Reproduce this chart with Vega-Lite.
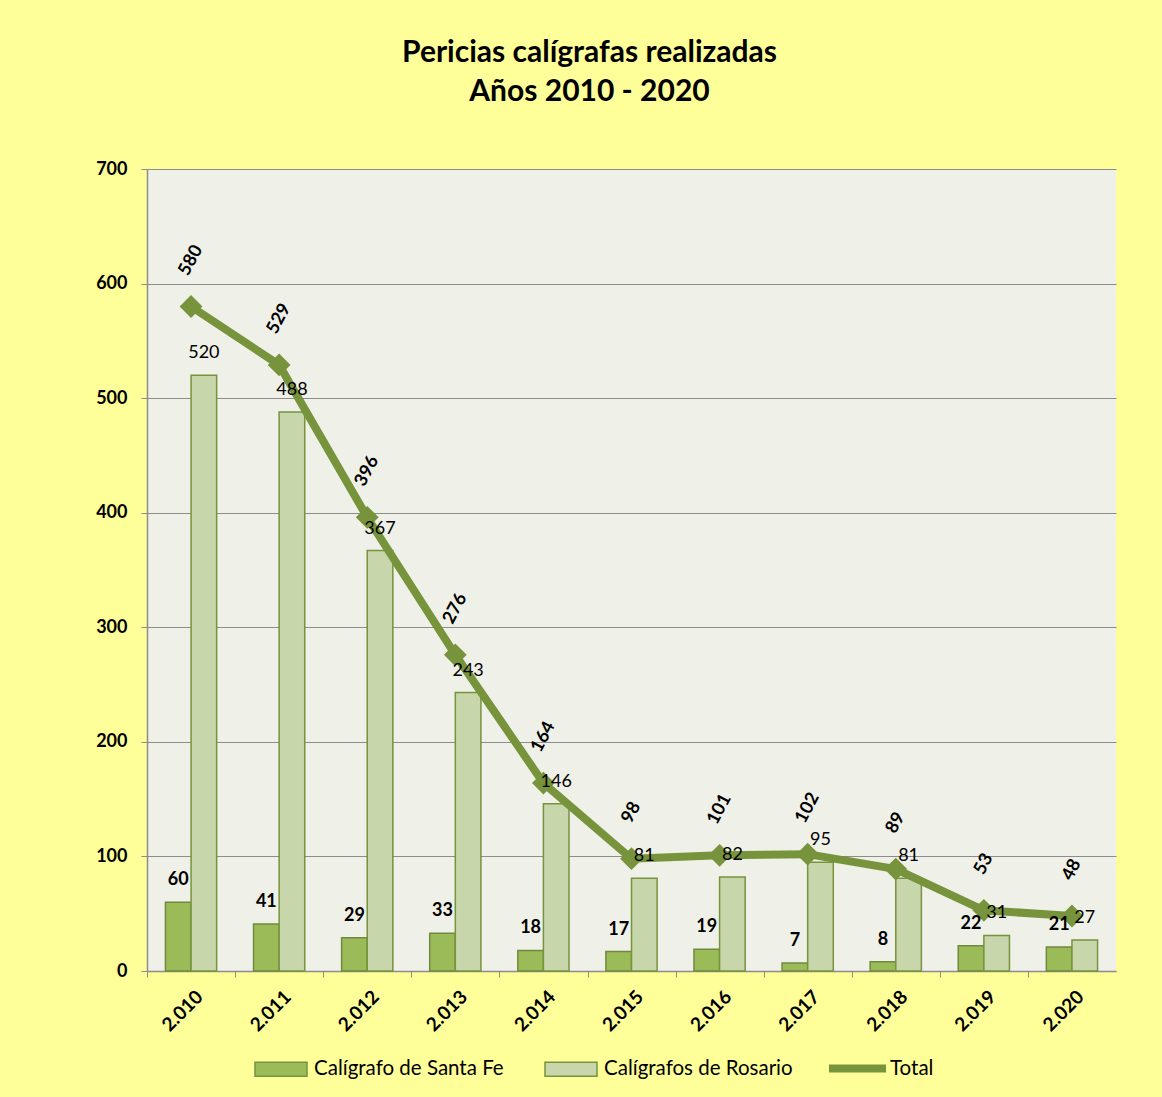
{
  "$schema": "https://vega.github.io/schema/vega-lite/v6.json",
  "autosize": "none",
  "width": 969,
  "height": 802,
  "padding": {"left": 147, "top": 169, "right": 46, "bottom": 126},
  "background": "#FFFF99",
  "config": {
    "font": "Lato",
    "view": {"fill": "#EFF1E8", "stroke": null},
    "axis": {"domainColor": "#8C8C8C", "tickColor": "#8C8C8C", "gridColor": "#8C8C8C", "labelColor": "black", "labelFont": "Lato", "labelFontWeight": "bold", "labelFontSize": 18, "title": null}
  },
  "title": {
    "text": ["Pericias calígrafas realizadas", "Años 2010 - 2020"],
    "font": "Lato",
    "fontSize": 30,
    "fontWeight": "bold",
    "color": "black",
    "lineHeight": 39,
    "anchor": "middle",
    "frame": "group",
    "dx": -42,
    "offset": 53
  },
  "datasets": {
    "main": [
      {"year": "2.010", "sf": 60, "ros": 520, "total": 580},
      {"year": "2.011", "sf": 41, "ros": 488, "total": 529},
      {"year": "2.012", "sf": 29, "ros": 367, "total": 396},
      {"year": "2.013", "sf": 33, "ros": 243, "total": 276},
      {"year": "2.014", "sf": 18, "ros": 146, "total": 164},
      {"year": "2.015", "sf": 17, "ros": 81, "total": 98},
      {"year": "2.016", "sf": 19, "ros": 82, "total": 101},
      {"year": "2.017", "sf": 7, "ros": 95, "total": 102},
      {"year": "2.018", "sf": 8, "ros": 81, "total": 89},
      {"year": "2.019", "sf": 22, "ros": 31, "total": 53},
      {"year": "2.020", "sf": 21, "ros": 27, "total": 48}
    ]
  },
  "data": {"name": "main"},
  "encoding": {
    "x": {
      "field": "year", "type": "nominal", "sort": null,
      "scale": {"paddingInner": 0, "paddingOuter": 0},
      "axis": {"labelAngle": -45, "labelFontSize": 19, "tickOffset": -44, "labelOffset": 46, "tickSize": 6, "labelPadding": 10, "grid": false, "domainWidth": 1.5}
    }
  },
  "layer": [
    {
      "transform": [{"fold": ["sf", "ros"], "as": ["key", "value"]},
        {"calculate": "datum.key == 'sf' ? 'Calígrafo de Santa Fe' : 'Calígrafos de Rosario'", "as": "series"}],
      "mark": {"type": "bar", "strokeWidth": 1.5},
      "encoding": {
        "xOffset": {"field": "series", "type": "nominal", "sort": ["Calígrafo de Santa Fe", "Calígrafos de Rosario"], "scale": {"paddingInner": 0, "paddingOuter": 0.72}},
        "y": {"field": "value", "type": "quantitative", "scale": {"domain": [0, 700], "nice": false},
          "axis": {"values": [0, 100, 200, 300, 400, 500, 600, 700], "grid": true, "tickSize": 6, "labelPadding": 14, "domainWidth": 1.5}},
        "fill": {"field": "series", "type": "nominal",
          "scale": {"domain": ["Calígrafo de Santa Fe", "Calígrafos de Rosario"], "range": ["#9BBB59", "#C7D6AB"]},
          "legend": {"orient": "none", "legendX": 107, "legendY": 873, "direction": "horizontal", "title": null,
            "symbolType": "M-1,-0.27H1V0.27H-1Z", "symbolSize": 2704, "symbolStrokeColor": "#77933C", "symbolStrokeWidth": 1.5,
            "labelFont": "Lato", "labelFontSize": 20.5, "labelColor": "black", "labelLimit": 0, "columnPadding": 38, "labelOffset": 6, "padding": 0}},
        "stroke": {"field": "series", "type": "nominal",
          "scale": {"domain": ["Calígrafo de Santa Fe", "Calígrafos de Rosario"], "range": ["#71893F", "#77933C"]},
          "legend": null}
      }
    },
    {
      "mark": {"type": "line", "strokeWidth": 8, "color": "#77933C"},
      "encoding": {
        "y": {"field": "total", "type": "quantitative"},
        "stroke": {"datum": "Total", "type": "nominal",
          "scale": {"range": ["#77933C"]},
          "legend": {"orient": "none", "legendX": 678, "legendY": 867, "title": null, "symbolType": "M-1,0H1", "symbolSize": 3249, "symbolStrokeWidth": 8,
            "labelFont": "Lato", "labelFontSize": 20.5, "labelColor": "black", "labelLimit": 0, "labelOffset": 0, "padding": 0}}
      }
    },
    {
      "mark": {"type": "point", "shape": "diamond", "filled": true, "size": 520, "color": "#77933C", "opacity": 1},
      "encoding": {"y": {"field": "total", "type": "quantitative"}}
    },
    {
      "transform": [{"fold": ["sf", "ros"], "as": ["key", "value"]},
        {"calculate": "datum.key == 'sf' ? 'Calígrafo de Santa Fe' : 'Calígrafos de Rosario'", "as": "series"},
        {"filter": "datum.key == 'sf'"}],
      "mark": {"type": "text", "fontWeight": "bold", "fontSize": 18, "yOffset": -22, "color": "black"},
      "encoding": {
        "xOffset": {"field": "series", "type": "nominal", "scale": {"domain": ["Calígrafo de Santa Fe", "Calígrafos de Rosario"], "paddingInner": 0, "paddingOuter": 0.72}},
        "y": {"field": "value", "type": "quantitative"},
        "text": {"field": "value", "type": "quantitative"}
      }
    },
    {
      "transform": [{"fold": ["sf", "ros"], "as": ["key", "value"]},
        {"calculate": "datum.key == 'sf' ? 'Calígrafo de Santa Fe' : 'Calígrafos de Rosario'", "as": "series"},
        {"filter": "datum.key == 'ros'"}],
      "mark": {"type": "text", "fontSize": 18, "yOffset": -22, "color": "black"},
      "encoding": {
        "xOffset": {"field": "series", "type": "nominal", "scale": {"domain": ["Calígrafo de Santa Fe", "Calígrafos de Rosario"], "paddingInner": 0, "paddingOuter": 0.72}},
        "y": {"field": "value", "type": "quantitative"},
        "text": {"field": "value", "type": "quantitative"}
      }
    },
    {
      "mark": {"type": "text", "fontWeight": "bold", "fontSize": 18, "angle": -62, "yOffset": -46, "color": "black"},
      "encoding": {
        "y": {"field": "total", "type": "quantitative"},
        "text": {"field": "total", "type": "quantitative"}
      }
    }
  ],
  "resolve": {"scale": {"stroke": "independent"}}
}
